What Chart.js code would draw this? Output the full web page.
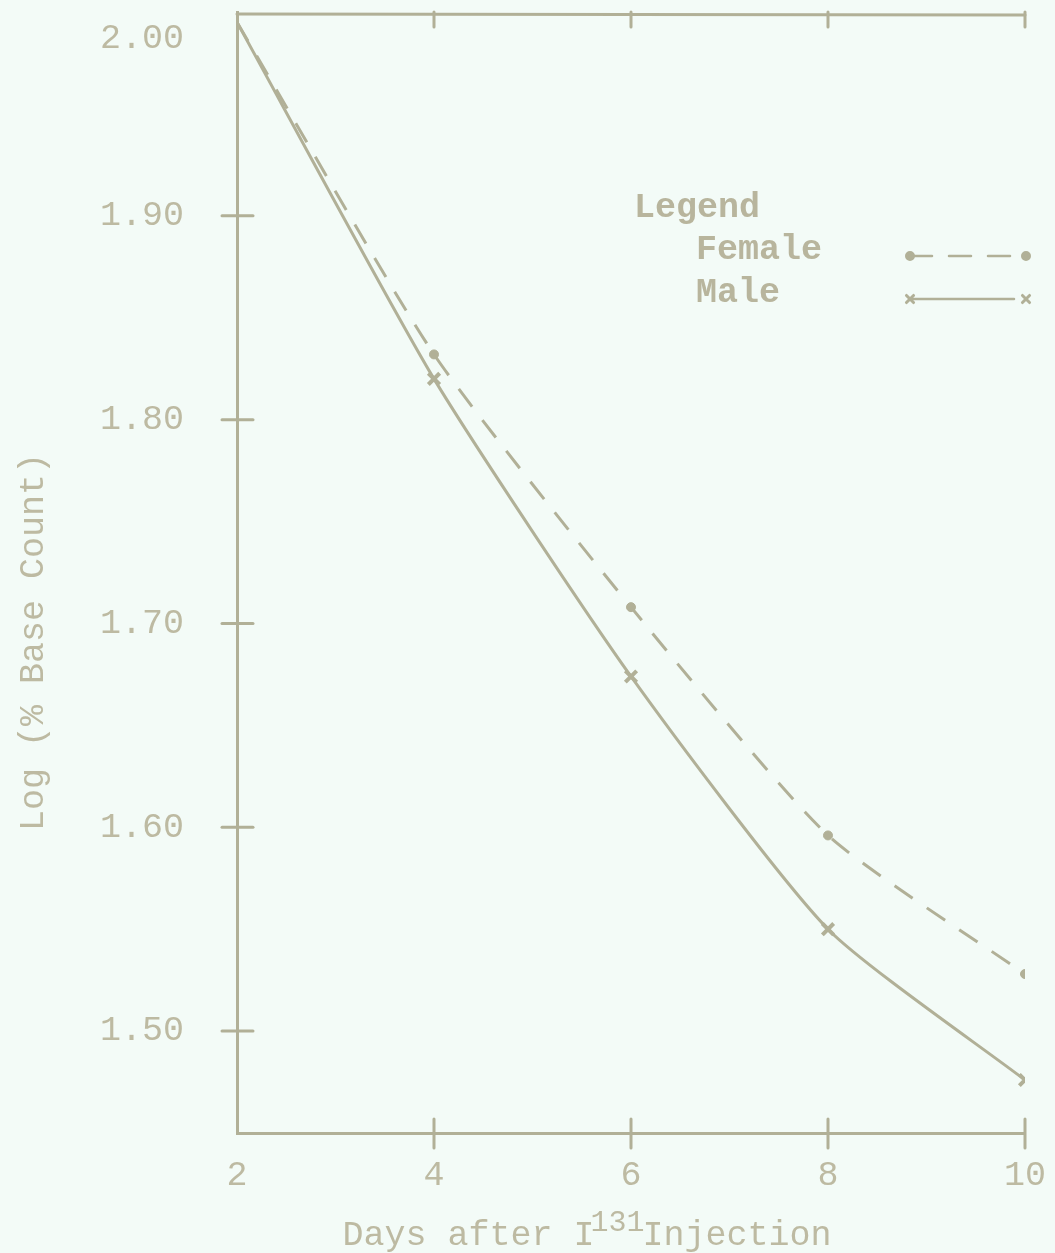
<!DOCTYPE html>
<html>
<head>
<meta charset="utf-8">
<script src="https://cdn.jsdelivr.net/npm/chart.js@4/dist/chart.umd.min.js"></script>
<style>
  html, body { margin: 0; padding: 0; background: #f3fbf7; }
  canvas { display: block; }
</style>
</head>
<body>
<canvas id="decayChart" width="1055" height="1253"></canvas>
<script>
// values
const days = [2, 4, 6, 8, 10];
const female = [1.995, 1.832, 1.708, 1.596, 1.528];
const male = [1.995, 1.82, 1.674, 1.55, 1.476];
const xTicks = [2, 4, 6, 8, 10];
const yTicks = [2.00, 1.90, 1.80, 1.70, 1.60, 1.50];
const seriesNames = ['Female', 'Male'];

const ink = '#b1b097';
const inkText = '#bdbaa2';
const typeFont = '"Liberation Mono", "Courier New", monospace';

function toPoints(ys) {
    return days.map((d, i) => ({ x: d, y: ys[i] }));
}

// no marker on the common starting point
function markerSize(size) {
    return c => (c.dataIndex === 0 ? 0 : size);
}

// paper, frame, cross ticks, typed labels and the legend box
const paperPlugin = {
    id: 'paper',
    beforeDraw(chart) {
        const ctx = chart.ctx;
        ctx.save();
        ctx.fillStyle = '#f3fbf7';
        ctx.fillRect(0, 0, chart.width, chart.height);
        ctx.restore();
    },
    afterDraw(chart) {
        const ctx = chart.ctx;
        const xs = chart.scales.x;
        const ys = chart.scales.y;
        const area = chart.chartArea;
        ctx.save();
        ctx.strokeStyle = ink;
        ctx.lineWidth = 3;
        ctx.lineCap = 'round';

        // top border with ticks hanging down
        ctx.beginPath();
        ctx.moveTo(area.left, area.top + 2);
        ctx.lineTo(area.right, area.top + 3);
        ctx.stroke();
        xTicks.slice(1).forEach(v => {
            const px = xs.getPixelForValue(v);
            ctx.beginPath();
            ctx.moveTo(px, area.top);
            ctx.lineTo(px, area.top + 15);
            ctx.stroke();
        });

        // cross ticks on the bottom axis
        xTicks.slice(1).forEach(v => {
            const px = xs.getPixelForValue(v);
            ctx.beginPath();
            ctx.moveTo(px, area.bottom - 14);
            ctx.lineTo(px, area.bottom + 15);
            ctx.stroke();
        });
        // cross ticks on the left axis
        yTicks.slice(1).forEach(v => {
            const py = ys.getPixelForValue(v);
            ctx.beginPath();
            ctx.moveTo(area.left - 15, py);
            ctx.lineTo(area.left + 16, py);
            ctx.stroke();
        });

        // tick labels
        ctx.fillStyle = inkText;
        ctx.font = '35px ' + typeFont;
        ctx.textBaseline = 'middle';
        ctx.textAlign = 'right';
        yTicks.forEach((v, i) => {
            let py = ys.getPixelForValue(v);
            if (i === 0) py += 27;
            ctx.fillText(v.toFixed(2), area.left - 53, py);
        });
        ctx.textAlign = 'center';
        xTicks.forEach(v => {
            ctx.fillText(String(v), xs.getPixelForValue(v), area.bottom + 43);
        });

        // x axis title with raised isotope number
        ctx.font = '35px ' + typeFont;
        ctx.textAlign = 'left';
        ctx.textBaseline = 'alphabetic';
        const partA = 'Days after I';
        const partB = '131';
        const partC = 'Injection';
        const wA = ctx.measureText(partA).width;
        ctx.font = '30px ' + typeFont;
        const wB = ctx.measureText(partB).width;
        ctx.font = '35px ' + typeFont;
        const wC = ctx.measureText(partC).width;
        let tx = 590 - (wA + wB + wC) / 2;
        const ty = 1245;
        ctx.fillText(partA, tx, ty);
        tx += wA;
        ctx.font = '30px ' + typeFont;
        ctx.fillText(partB, tx - 4, ty - 14);
        tx += wB - 6;
        ctx.font = '35px ' + typeFont;
        ctx.fillText(partC, tx, ty);

        // y axis title
        ctx.save();
        ctx.translate(34, 642);
        ctx.rotate(-Math.PI / 2);
        ctx.textAlign = 'center';
        ctx.textBaseline = 'middle';
        ctx.fillText('Log (% Base Count)', 0, 0);
        ctx.restore();

        // legend
        ctx.fillStyle = '#b8b59d';
        ctx.font = 'bold 35px ' + typeFont;
        ctx.textAlign = 'left';
        ctx.textBaseline = 'middle';
        ctx.fillText('Legend', 634, 208);
        const rows = [250, 293];
        chart.data.datasets.forEach((ds, i) => {
            const ry = rows[i];
            ctx.fillStyle = '#b8b59d';
            ctx.fillText(seriesNames[i], 696, ry);
            const sy = ry + 6;
            const x0 = 910, x1 = 1026;
            ctx.save();
            ctx.strokeStyle = ds.borderColor;
            ctx.lineWidth = 2.5;
            ctx.setLineDash(ds.borderDash || []);
            ctx.beginPath();
            ctx.moveTo(x0, sy);
            ctx.lineTo(x1 - 12, sy);
            ctx.stroke();
            ctx.restore();
            ctx.fillStyle = ds.pointBackgroundColor;
            ctx.strokeStyle = ds.pointBorderColor;
            [x0, x1].forEach(px => {
                Chart.helpers.drawPoint(ctx, {
                    pointStyle: ds.pointStyle,
                    radius: ds.legendRadius,
                    borderWidth: ds.pointBorderWidth,
                    rotation: 0
                }, px, sy);
            });
        });
        ctx.restore();
    }
};

const ctx = document.getElementById('decayChart').getContext('2d');
new Chart(ctx, {
    type: 'line',
    data: {
        datasets: [
            {
                label: seriesNames[0],
                data: toPoints(female),
                borderColor: ink,
                borderWidth: 3,
                borderDash: [22, 17],
                tension: 0.2,
                pointStyle: 'circle',
                pointRadius: markerSize(4.5),
                legendRadius: 3.5,
                pointBorderWidth: 1,
                pointBackgroundColor: ink,
                pointBorderColor: ink,
                fill: false
            },
            {
                label: seriesNames[1],
                data: toPoints(male),
                borderColor: ink,
                borderWidth: 3,
                tension: 0.2,
                pointStyle: 'crossRot',
                pointRadius: markerSize(8),
                legendRadius: 5,
                pointBorderWidth: 4,
                pointBackgroundColor: ink,
                pointBorderColor: ink,
                fill: false
            }
        ]
    },
    options: {
        responsive: false,
        devicePixelRatio: 1,
        animation: false,
        layout: { padding: { left: 237, right: 30, top: 5, bottom: 120 } },
        plugins: {
            legend: { display: false },
            tooltip: { enabled: false }
        },
        scales: {
            x: {
                type: 'linear',
                min: 2,
                max: 10,
                grid: { display: false, drawTicks: false },
                ticks: { display: false },
                border: { display: true, color: ink, width: 3 }
            },
            y: {
                min: 1.45,
                max: 2.00,
                grid: { display: false, drawTicks: false },
                ticks: { display: false },
                border: { display: true, color: ink, width: 3 }
            }
        }
    },
    plugins: [paperPlugin]
});
</script>
</body>
</html>
